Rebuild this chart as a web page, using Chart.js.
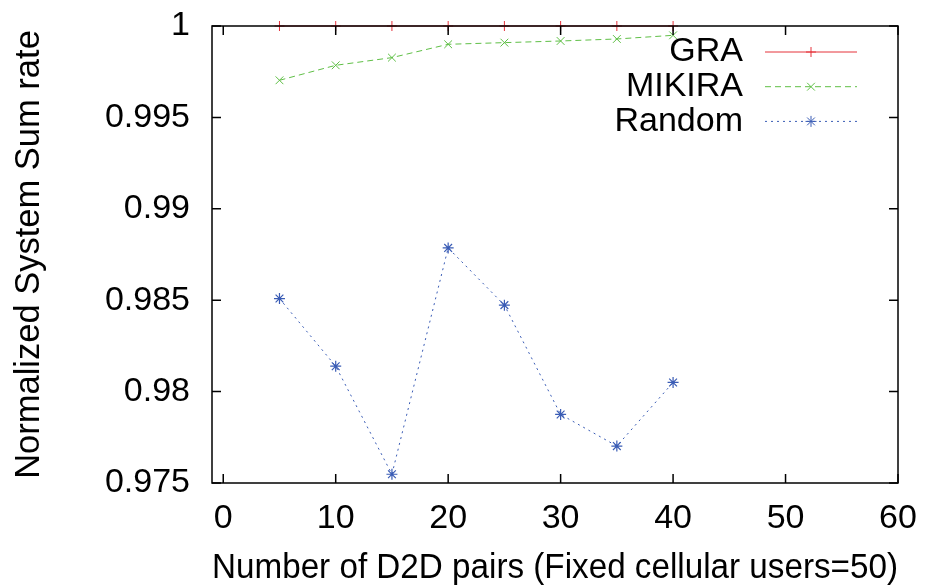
<!DOCTYPE html>
<html>
<head>
<meta charset="utf-8">
<script src="https://cdn.jsdelivr.net/npm/chart.js@4.4.0/dist/chart.umd.min.js"></script>
<style>
  html, body { margin: 0; padding: 0; background: #fff; }
  #wrap { width: 925px; height: 587px; position: relative; }
</style>
</head>
<body>
<div id="wrap"><canvas id="rateChart"></canvas></div>
<script>
// values
const pairs = [5, 10, 15, 20, 25, 30, 35, 40];
const graRate = [1, 1, 1, 1, 1, 1, 1, 1];
const mikiraRate = [0.99703, 0.99785, 0.99827, 0.99900, 0.99909, 0.99918, 0.99929, 0.99949];
const randomRate = [0.98509, 0.98139, 0.97548, 0.98786, 0.98473, 0.97875, 0.97702, 0.98050];
const xTicks = [0, 10, 20, 30, 40, 50, 60];
const yTicks = [0.975, 0.98, 0.985, 0.99, 0.995, 1];

const family = "'Liberation Sans', Arial, Helvetica, sans-serif";
const toPoints = vals => pairs.map((p, i) => ({ x: p, y: vals[i] }));

// gnuplot style box with inward ticks on all four sides
const framePlugin = {
  id: 'frame',
  afterDatasetsDraw(chart) {
    const { ctx, chartArea: a, scales: { x, y } } = chart;
    const len = 9;
    ctx.save();
    ctx.strokeStyle = '#000';
    ctx.lineWidth = 1.5;
    ctx.strokeRect(a.left, a.top, a.right - a.left, a.bottom - a.top);
    ctx.beginPath();
    x.ticks.forEach(t => {
      const px = x.getPixelForValue(t.value);
      ctx.moveTo(px, a.bottom); ctx.lineTo(px, a.bottom - len);
      ctx.moveTo(px, a.top); ctx.lineTo(px, a.top + len);
    });
    y.ticks.forEach(t => {
      const py = y.getPixelForValue(t.value);
      ctx.moveTo(a.left, py); ctx.lineTo(a.left + len, py);
      ctx.moveTo(a.right, py); ctx.lineTo(a.right - len, py);
    });
    ctx.stroke();
    ctx.restore();
  }
};

// key in the top right corner, text right aligned then the line sample
const keyPlugin = {
  id: 'key',
  afterDraw(chart) {
    const ctx = chart.ctx;
    const textRight = 743, lineStart = 765, lineEnd = 857, firstRow = 52, rowGap = 34.7;
    chart.data.datasets.forEach((ds, i) => {
      const ry = firstRow + i * rowGap;
      ctx.save();
      ctx.font = '34px ' + family;
      ctx.fillStyle = '#000';
      ctx.textAlign = 'right';
      ctx.textBaseline = 'middle';
      ctx.fillText(ds.label, textRight, ry);
      ctx.strokeStyle = ds.borderColor;
      ctx.fillStyle = ds.borderColor;
      ctx.lineWidth = ds.borderWidth;
      ctx.setLineDash(ds.borderDash || []);
      ctx.beginPath();
      ctx.moveTo(lineStart, ry);
      ctx.lineTo(lineEnd, ry);
      ctx.stroke();
      ctx.setLineDash([]);
      if (Chart.helpers && Chart.helpers.drawPoint) {
        Chart.helpers.drawPoint(ctx, {
          pointStyle: ds.pointStyle, radius: ds.pointRadius,
          borderWidth: ds.pointBorderWidth, rotation: 0
        }, (lineStart + lineEnd) / 2, ry);
      }
      ctx.restore();
    });
  }
};

new Chart(document.getElementById('rateChart'), {
  type: 'line',
  data: {
    datasets: [{
      label: 'GRA',
      data: toPoints(graRate),
      borderColor: '#e5323b',
      backgroundColor: '#e5323b',
      borderWidth: 1,
      pointStyle: 'cross',
      pointRadius: 5,
      pointBorderWidth: 1,
      clip: false
    }, {
      label: 'MIKIRA',
      data: toPoints(mikiraRate),
      borderColor: '#5fbf46',
      backgroundColor: '#5fbf46',
      borderWidth: 1,
      borderDash: [6, 4],
      pointStyle: 'crossRot',
      pointRadius: 5.5,
      pointBorderWidth: 1,
      clip: false
    }, {
      label: 'Random',
      data: toPoints(randomRate),
      borderColor: '#3a5cb5',
      backgroundColor: '#3a5cb5',
      borderWidth: 1,
      borderDash: [2, 4],
      pointStyle: 'star',
      pointRadius: 5.5,
      pointBorderWidth: 1.2,
      clip: false
    }]
  },
  options: {
    responsive: true,
    maintainAspectRatio: false,
    animation: false,
    layout: { padding: { top: 26, right: 27, left: 0, bottom: 0 } },
    elements: { line: { tension: 0, fill: false } },
    plugins: {
      legend: { display: false },
      tooltip: { enabled: false }
    },
    scales: {
      x: {
        type: 'linear',
        min: -1,
        max: 60,
        afterBuildTicks: s => { s.ticks = xTicks.map(v => ({ value: v })); },
        afterFit: s => { s.height = 104; s.paddingLeft = 0; s.paddingRight = 0; },
        ticks: {
          color: '#000',
          font: { family, size: 34, lineHeight: 1.2 },
          padding: 15,
          maxRotation: 0,
          autoSkip: false,
          callback: v => String(v)
        },
        grid: { display: false, drawTicks: false },
        border: { display: false },
        title: {
          display: true,
          text: 'Number of D2D pairs (Fixed cellular users=50)',
          color: '#000',
          font: { family, size: 35.5, lineHeight: 1 },
          padding: { top: 0, bottom: 1 }
        }
      },
      y: {
        type: 'linear',
        min: 0.975,
        max: 1,
        afterBuildTicks: s => { s.ticks = yTicks.map(v => ({ value: v })); },
        afterFit: s => { s.width = 212; s.paddingTop = 0; s.paddingBottom = 0; },
        ticks: {
          color: '#000',
          font: { family, size: 34, lineHeight: 1.2 },
          padding: 22,
          autoSkip: false,
          callback: v => String(v)
        },
        grid: { display: false, drawTicks: false },
        border: { display: false },
        title: {
          display: true,
          text: 'Normalized System Sum rate',
          color: '#000',
          font: { family, size: 34.5, lineHeight: 1 },
          padding: { top: 12, bottom: 0 }
        }
      }
    }
  },
  plugins: [framePlugin, keyPlugin]
});
</script>
</body>
</html>
